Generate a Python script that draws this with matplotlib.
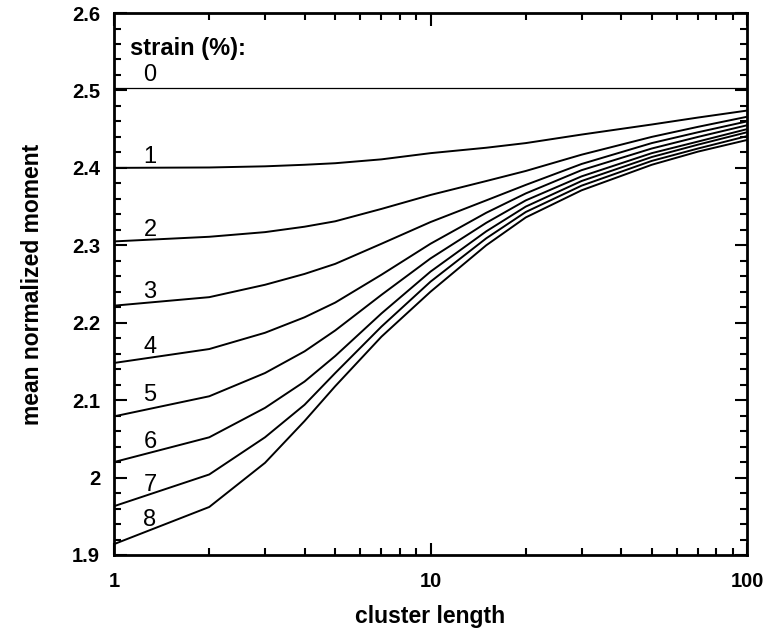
#!/usr/bin/env python3

import numpy as np
import matplotlib
matplotlib.use("Agg")
import matplotlib.pyplot as plt
from matplotlib.ticker import LogLocator, MultipleLocator, FixedLocator, FixedFormatter

# =========================
# DATA
# =========================

cluster_length = [1, 2, 3, 4, 5, 7, 10, 15, 20, 30, 50, 70, 100]

# mean normalized moment for each strain (%)
strain_0 = [2.503] * 13
strain_1 = [2.400, 2.4005, 2.402, 2.404, 2.406, 2.411, 2.419, 2.426, 2.432, 2.443, 2.456, 2.465, 2.474]
strain_2 = [2.305, 2.311, 2.317, 2.324, 2.331, 2.347, 2.365, 2.383, 2.396, 2.417, 2.440, 2.453, 2.466]
strain_3 = [2.222, 2.233, 2.249, 2.263, 2.276, 2.302, 2.330, 2.358, 2.378, 2.405, 2.432, 2.446, 2.460]
strain_4 = [2.148, 2.166, 2.187, 2.207, 2.226, 2.262, 2.302, 2.342, 2.367, 2.397, 2.425, 2.440, 2.455]
strain_5 = [2.079, 2.105, 2.135, 2.163, 2.190, 2.236, 2.283, 2.329, 2.358, 2.389, 2.419, 2.434, 2.450]
strain_6 = [2.020, 2.052, 2.090, 2.124, 2.157, 2.212, 2.266, 2.318, 2.350, 2.383, 2.414, 2.430, 2.446]
strain_7 = [1.963, 2.004, 2.052, 2.094, 2.135, 2.195, 2.253, 2.309, 2.343, 2.377, 2.409, 2.425, 2.441]
strain_8 = [1.914, 1.962, 2.019, 2.073, 2.118, 2.182, 2.240, 2.300, 2.336, 2.371, 2.404, 2.421, 2.436]

curves = [strain_0, strain_1, strain_2, strain_3, strain_4,
          strain_5, strain_6, strain_7, strain_8]
curve_labels = ["0", "1", "2", "3", "4", "5", "6", "7", "8"]
label_x = 1.30
label_y = [2.520, 2.414, 2.320, 2.240, 2.169, 2.107, 2.046, 1.990, 1.945]

# =========================
# PLOT
# =========================

plt.rcParams['font.family'] = ['Liberation Sans', 'DejaVu Sans']

fig = plt.figure(figsize=(7.68, 6.35), dpi=100)
ax = fig.add_axes([0.1484, 0.126, 0.8243, 0.8535])

for i, y in enumerate(curves):
    lw = 0.9 if i == 0 else 1.4
    ax.plot(cluster_length, y, color='black', linewidth=lw)
    ax.text(label_x, label_y[i], curve_labels[i], fontsize=17,
            ha='center', va='center')

ax.text(1.12, 2.554, "strain (%):", fontsize=17, fontweight='bold',
        ha='left', va='center')

ax.set_xscale('log')
ax.set_xlim(1, 100)
ax.set_ylim(1.9, 2.6)

ax.xaxis.set_major_locator(FixedLocator([1, 10, 100]))
ax.xaxis.set_major_formatter(FixedFormatter(["1", "10", "100"]))
ax.xaxis.set_minor_locator(LogLocator(base=10, subs=np.arange(2, 10)))
ax.xaxis.set_minor_formatter(plt.NullFormatter())

ax.yaxis.set_minor_locator(MultipleLocator(0.02))
ax.set_yticks([1.9, 2.0, 2.1, 2.2, 2.3, 2.4, 2.5, 2.6])
ax.set_yticklabels(["1.9", "2", "2.1", "2.2", "2.3", "2.4", "2.5", "2.6"])

ax.tick_params(which='both', direction='in', top=True, right=True, width=1.5)
ax.tick_params(which='major', length=9, labelsize=14.5)
ax.tick_params(axis='y', which='major', pad=10)
ax.tick_params(axis='x', which='major', pad=12)
ax.tick_params(which='minor', length=5)
for lbl in ax.get_xticklabels() + ax.get_yticklabels():
    lbl.set_fontweight('bold')

for sp in ax.spines.values():
    sp.set_linewidth(2)

ax.set_xlabel("cluster length", fontsize=16.5, fontweight='bold', labelpad=10)
ax.set_ylabel("mean normalized moment", fontsize=16.5, fontweight='bold', labelpad=20)

fig.savefig("out.png", dpi=100)
